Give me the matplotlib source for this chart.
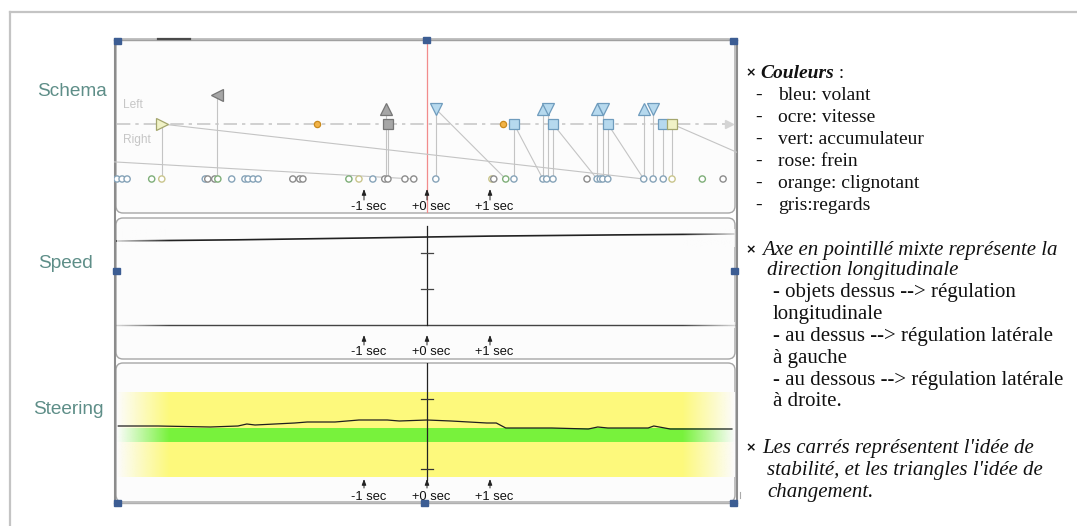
import matplotlib.pyplot as plt
from matplotlib.patches import FancyBboxPatch, Rectangle
import numpy as np

plt.rcParams['font.family'] = ['Liberation Sans', 'DejaVu Sans']

W, H = 1077, 526
fig = plt.figure(figsize=(W / 100, H / 100), dpi=100)

# ---------------- data ----------------
tick_sec = [-1, 0, 1]
tick_labels = ["-1 sec", "+0 sec", "+1 sec"]

# gaze fixations (bottom row of the schema): time (s) and colour code
gaze_t = [-4.92, -4.84, -4.76, -4.37, -4.21, -3.52, -3.48, -3.37, -3.32, -3.10,
          -2.89, -2.84, -2.76, -2.68, -2.13, -2.02, -1.97, -1.24, -1.08, -0.86,
          -0.67, -0.62, -0.35, -0.21, 0.14, 1.03, 1.06, 1.25, 1.38, 1.84,
          1.90, 2.00, 2.54, 2.70, 2.75, 2.79, 2.87, 3.44, 3.59, 3.75,
          3.89, 4.37, 4.70]
gaze_c = ['b', 'b', 'b', 'g', 'y', 'b', 'k', 'k', 'g', 'b',
          'b', 'b', 'b', 'b', 'k', 'k', 'k', 'g', 'y', 'b',
          'k', 'k', 'k', 'k', 'b', 'y', 'k', 'g', 'b', 'b',
          'b', 'b', 'k', 'b', 'b', 'b', 'b', 'b', 'b', 'b',
          'y', 'g', 'k']

# schema events: time, marker, colour code, level (0 = longitudinal axis)
ev_t = [-4.21, -3.33, -1.75, -0.65, -0.62, 0.14, 1.21, 1.38, 1.84, 1.92,
        2.00, 2.70, 2.79, 2.87, 3.44, 3.59, 3.75, 3.89]
ev_mk = ['>', '<', 'o', '^', 's', 'v', 'o', 's', '^', 'v',
         's', '^', 'v', 's', '^', 'v', 's', 's']
ev_c = ['v', 'k', 'o', 'k', 'k', 'b', 'o', 'b', 'b', 'b',
        'b', 'b', 'b', 'b', 'b', 'b', 'b', 'v']
ev_lvl = [0, 29, 0, 15, 0, 15, 0, 0, 15, 15,
          0, 15, 15, 0, 15, 15, 0, 0]

# slanted links event -> gaze
link_t0 = [-4.21, 0.14, 1.38, 2.00, 2.87, 3.89, -15.5]
link_y0 = [0, 15, 0, 0, 0, 0, 0]
link_t1 = [3.44, 1.25, 1.84, 2.70, 3.44, 5.89, -0.21]
GAZE_LVL = -55

# speed
speed_t = [-4.92, -3.0, -1.0, 0.0, 1.0, 3.0, 4.87]
speed_v = [118.0, 119.2, 121.0, 122.0, 122.9, 124.1, 125.0]
speed_ref = 34
speed_marks = [106, 70]

# steering
steer_t = [-4.90, -4.27, -3.44, -3.00, -2.86, -2.73, -2.10, -1.90, -1.46, -1.08,
           -0.63, -0.44, 0.00, 0.38, 0.95, 1.10, 1.25, 1.35, 1.98, 2.56,
           2.71, 2.87, 3.51, 3.60, 3.86, 4.84]
steer_v = [9, 9, 8, 9, 11, 10, 12, 13, 13, 15,
           15, 14, 15, 14, 12, 12, 7, 7, 7, 6,
           8, 7, 7, 9, 6, 6]
yellow_band = (-42, 43)
green_band = (-7, 7)
steer_caps = [36, -34]

legend_colors = {'b': ('#b6d9ee', '#6f9cbd'), 'k': ('#a6a6a6', '#767676'),
                 'o': ('#f2b347', '#c98a1e'), 'v': ('#f0f2c6', '#a4a66e')}
gaze_edge = {'b': '#86a3b8', 'g': '#7eae78', 'y': '#c9c58c', 'k': '#8c8c8c'}

PANEL_BG = '#fcfcfc'

# ---------------- layout (pixels) ----------------
T0_PX, PX_SEC = 427, 63
X_L, X_R = 114, 737
T_LEFT, T_RIGHT = (X_L - T0_PX) / PX_SEC, (X_R - T0_PX) / PX_SEC
# inner edge of the rounded boxes
B_LEFT, B_RIGHT = (117 - T0_PX) / PX_SEC, (734 - T0_PX) / PX_SEC


def px_rect(x0, y0, x1, y1):
    return [x0 / W, 1 - y1 / H, (x1 - x0) / W, (y1 - y0) / H]


# background / chrome
bg = fig.add_axes([0, 0, 1, 1], zorder=0)
bg.set_xlim(0, W)
bg.set_ylim(H, 0)
bg.axis('off')
bg.plot([10, 10], [12, H], color='#c4c4c4', lw=1.6)
bg.plot([10, W], [12, 12], color='#c4c4c4', lw=1.6)
bg.add_patch(Rectangle((X_L, 39), X_R - X_L, 464, color='white'))
for (y0, y1) in [(39, 213), (218, 359), (363, 502)]:
    bg.add_patch(FancyBboxPatch((116, y0), 619, y1 - y0,
                                boxstyle="round,pad=0,rounding_size=7",
                                fc=PANEL_BG, ec='#a6a6a6', lw=1))
bg.plot([X_L, X_R], [39.5, 39.5], color='#a0a0a0', lw=1)
bg.plot([X_L + 0.5, X_L + 0.5], [39, 503], color='#8c8c8c', lw=1.5)
bg.plot([X_R, X_R], [39, 503], color='#8c8c8c', lw=1.5)
bg.plot([X_L, X_R], [503, 503], color='#b0b0b0', lw=1)
bg.plot([158, 190], [38.5, 38.5], color='#4a4a4a', lw=1.6)
bg.plot([740, 740], [492, 498], color='#aaaaaa', lw=0.8)

lab_col = '#5e8e88'
bg.text(72, 92, "Schema", ha='center', va='center', fontsize=13.7, color=lab_col)
bg.text(65, 264, "Speed", ha='center', va='center', fontsize=13.7, color=lab_col)
bg.text(68, 409, "Steering", ha='center', va='center', fontsize=13.7, color=lab_col)


def panel(y0, y1, ylim):
    ax = fig.add_axes(px_rect(X_L, y0, X_R, y1), zorder=1)
    ax.set_xlim(T_LEFT, T_RIGHT)
    ax.set_ylim(*ylim)
    ax.axis('off')
    ax.patch.set_alpha(0)
    return ax


def time_ticks(ax, ya0, ya1, yt):
    for s, lab in zip(tick_sec, tick_labels):
        ax.annotate('', xy=(s, ya1), xytext=(s, ya0),
                    arrowprops=dict(arrowstyle='-|>,head_length=0.35,head_width=0.13',
                                    lw=0.7, color='#222222', shrinkA=0, shrinkB=0))
        ax.text(s + 0.07, yt, lab, ha='center', va='center', fontsize=9.3, color='#111111')


def edge_fade(ax, y0, y1, width=0.83, amax=1.0, z=3):
    ramp = np.linspace(amax, 0, 64)
    for side, t_a, t_b in [(ramp, B_LEFT, B_LEFT + width),
                           (ramp[::-1], B_RIGHT - width, B_RIGHT)]:
        img = np.ones((1, 64, 4)) * 252 / 255
        img[0, :, 3] = side
        ax.imshow(img, extent=(t_a, t_b, y0, y1), aspect='auto',
                  interpolation='bilinear', zorder=z)


# ---- Schema ----
ax1 = panel(39, 213, (-89, 85))
ax1.plot([T_LEFT + 0.05, T_RIGHT - 0.12], [0, 0], color='#c9c9c9', lw=1.2,
         linestyle=(0, (8, 3, 2, 3)), zorder=1)
ax1.plot([T_RIGHT - 0.12], [0], marker='>', ms=6, color='#d4d4d4', zorder=1)
ax1.text(-4.83, 19, "Left", fontsize=8.6, color='#c6c6c6', va='center')
ax1.text(-4.83, -16, "Right", fontsize=8.6, color='#c6c6c6', va='center')
ax1.axvline(0, color='#f28c8c', lw=0.9, zorder=2)
for t0, y0, t1 in zip(link_t0, link_y0, link_t1):
    ax1.plot([t0, t1], [y0, GAZE_LVL], color='#c4c4c4', lw=0.8, zorder=2)
for t, mk, lv in zip(ev_t, ev_mk, ev_lvl):
    if mk != 'o':
        ax1.plot([t, t], [lv, GAZE_LVL], color='#c4c4c4', lw=0.8, zorder=2)
ax1.scatter(gaze_t, [GAZE_LVL] * len(gaze_t), s=20, facecolors='white',
            edgecolors=[gaze_edge[c] for c in gaze_c], linewidths=1, zorder=4)
for t, mk, c, lv in zip(ev_t, ev_mk, ev_c, ev_lvl):
    fc, ec = legend_colors[c]
    ms = {'o': 4.5, 's': 6.5}.get(mk, 8)
    ax1.plot([t], [lv], marker=mk, ms=ms, mfc=fc, mec=ec, mew=0.9, zorder=5)
time_ticks(ax1, -76, -65, -83)

# ---- Speed ----
ax2 = panel(219, 359, (0, 140))
ax2.plot(speed_t, speed_v, color='#222222', lw=1.2, zorder=2)
ax2.plot([B_LEFT, B_RIGHT], [speed_ref, speed_ref], color='#444444', lw=1, zorder=2)
edge_fade(ax2, speed_ref - 3, speed_ref + 3, amax=0.8)
edge_fade(ax2, 112, 130, amax=0.8)
ax2.plot([0, 0], [speed_ref, 133], color='#222222', lw=0.9, zorder=4)
for m in speed_marks:
    ax2.plot([-0.095, 0.095], [m, m], color='#444444', lw=0.9, zorder=4)
time_ticks(ax2, 14, 24, 7)

# ---- Steering ----
ax3 = panel(363, 503, (-68, 72))
ax3.fill_between([B_LEFT, B_RIGHT], *yellow_band, color='#fdf97c', lw=0, zorder=1)
ax3.fill_between([B_LEFT, B_RIGHT], *green_band, color='#78f23c', lw=0, zorder=2)
edge_fade(ax3, yellow_band[0], yellow_band[1])
ax3.plot(steer_t, steer_v, color='#1e1e1e', lw=0.9, zorder=4)
ax3.plot([0, 0], [72, -45], color='#222222', lw=0.9, zorder=4)
for c in steer_caps:
    ax3.plot([-0.095, 0.095], [c, c], color='#333333', lw=0.9, zorder=4)
time_ticks(ax3, -53, -44, -62)

# ---- handles ----
top = fig.add_axes([0, 0, 1, 1], zorder=5)
top.set_xlim(0, W)
top.set_ylim(H, 0)
top.axis('off')
top.patch.set_alpha(0)
for hx, hy in [(114, 38), (423, 37), (730, 38), (113, 268), (731, 268),
               (114, 500), (421, 500), (730, 500)]:
    top.add_patch(Rectangle((hx, hy), 7, 6, color='#3c5d93'))

# ---- right-hand notes ----
serif = ['Liberation Serif', 'DejaVu Serif']
fs1, fs2 = 14, 15
renderer = fig.canvas.get_renderer()


def bullet(y):
    bg.text(745, y, "×", fontsize=9, fontweight='bold', family=['DejaVu Sans'],
            ha='left', va='center', color='#111111')


bullet(73)
t = bg.text(760, 73, "Couleurs", fontsize=fs1, family=serif, style='italic',
            fontweight='bold', va='center', color='#111111')
bb = t.get_window_extent(renderer)
bg.text(760 + bb.width, 73, " :", fontsize=fs1, family=serif, va='center', color='#111111')
colour_items = ["bleu: volant", "ocre: vitesse", "vert: accumulateur", "rose: frein",
                "orange: clignotant", "gris:regards"]
for i, item in enumerate(colour_items):
    y = 95 + 22 * i
    bg.text(755, y, "-", fontsize=fs1, family=serif, va='center', color='#111111')
    bg.text(778, y, item, fontsize=fs1, family=serif, va='center', color='#111111')

notes = [(762, 250, "Axe en pointillé mixte représente la", 'italic'),
         (767, 271, "direction longitudinale", 'italic'),
         (773, 293, "- objets dessus --> régulation", 'normal'),
         (773, 315, "longitudinale", 'normal'),
         (773, 337, "- au dessus --> régulation latérale", 'normal'),
         (773, 358, "à gauche", 'normal'),
         (773, 380, "- au dessous --> régulation latérale", 'normal'),
         (773, 402, "à droite.", 'normal'),
         (762, 448, "Les carrés représentent l'idée de", 'italic'),
         (767, 470, "stabilité, et les triangles l'idée de", 'italic'),
         (767, 492, "changement.", 'italic')]
bullet(250)
bullet(448)
for x, y, s, st in notes:
    bg.text(x, y, s, fontsize=fs2, family=serif, style=st, va='center', color='#111111')

fig.savefig("out.png", dpi=100)
